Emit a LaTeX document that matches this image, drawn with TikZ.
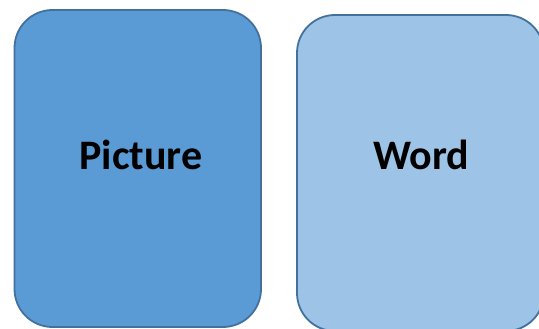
\documentclass[tikz,border=0pt]{standalone}
\usepackage{fontspec}
\setmainfont{Carlito}
\definecolor{darkfill}{HTML}{5B9BD5}
\definecolor{lightfill}{HTML}{9DC3E6}
\definecolor{edgeblue}{HTML}{41719C}
\begin{document}
\begin{tikzpicture}[x=1pt,y=-1pt,
  card/.style={draw=edgeblue,line width=1.8pt,rounded corners=38pt,inner sep=0pt,outer sep=0pt},
  cardtext/.style={font=\fontsize{42}{48}\selectfont\bfseries,text=black,inner sep=0pt}]
\useasboundingbox (0,0) rectangle (539,329);
\node[card,fill=darkfill,minimum width=246.5pt,minimum height=317pt] (leftcard) at (137.75,168.5) {};
\node[card,fill=lightfill,minimum width=247pt,minimum height=316pt] (rightcard) at (420.5,173) {};
\node[cardtext] (pic) at (141,155) {Picture};
\node[cardtext] (word) at (421,155) {Word};
\end{tikzpicture}
\end{document}
